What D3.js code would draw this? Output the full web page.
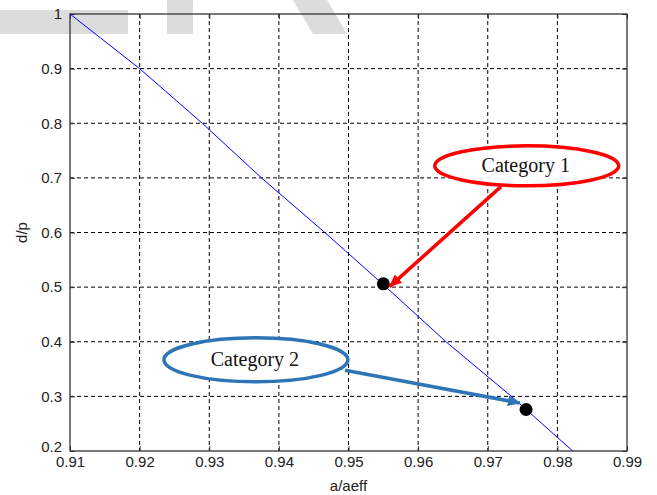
<!DOCTYPE html>
<html>
<head>
<meta charset="utf-8">
<script src="https://d3js.org/d3.v7.min.js"></script>
<style>
  body { margin: 0; background: #fff; }
  svg { display: block; }
</style>
</head>
<body>
<script>
// curve d/p against a/aeff
var curveX = [0.91, 0.92, 0.929, 0.9375, 0.9466, 0.9554, 0.964, 0.9734, 0.9822];
var curveY = [1.0, 0.9, 0.8, 0.7, 0.6, 0.5, 0.4, 0.3, 0.2];

// marked points
var pointX = [0.955, 0.9755];
var pointY = [0.506, 0.276];

// callouts (data coords)
var categories = ['Category 1', 'Category 2'];
var calloutX = [0.9756, 0.9367];
var calloutY = [0.722, 0.367];
var arrowFromX = [0.9719, 0.9495];
var arrowFromY = [0.684, 0.348];
var arrowToX = [0.9559, 0.9746];
var arrowToY = [0.501, 0.288];
var calloutColors = ['#ff0000', '#2e75b6'];

var xTicks = [0.91, 0.92, 0.93, 0.94, 0.95, 0.96, 0.97, 0.98, 0.99];
var yTicks = [0.2, 0.3, 0.4, 0.5, 0.6, 0.7, 0.8, 0.9, 1];

var width = 657, height = 495;
var margin = {left: 70, right: 30, top: 14, bottom: 44};

var svg = d3.select('body').append('svg')
    .attr('width', width)
    .attr('height', height);

// grey watermark behind the chart
var wm = svg.append('g').attr('fill', '#dcdcdc');
wm.append('rect').attr('x', 0).attr('y', 10).attr('width', 128).attr('height', 24);
wm.append('rect').attr('x', 167).attr('y', 0).attr('width', 26).attr('height', 34);
wm.append('polygon').attr('points', '293,0 327,0 347,34 313,34');

var x = d3.scaleLinear().domain([0.91, 0.99]).range([margin.left, width - margin.right]);
var y = d3.scaleLinear().domain([0.2, 1]).range([height - margin.bottom, margin.top]);

var x0 = x.range()[0], x1 = x.range()[1];
var y0 = y.range()[0], y1 = y.range()[1];

// dashed grid
svg.append('g').selectAll('line')
    .data(xTicks.slice(1, -1))
    .enter().append('line')
    .attr('x1', d => x(d)).attr('x2', d => x(d))
    .attr('y1', y1).attr('y2', y0)
    .attr('stroke', '#000').attr('stroke-width', 1)
    .attr('stroke-dasharray', '4,3');

svg.append('g').selectAll('line')
    .data(yTicks.slice(1, -1))
    .enter().append('line')
    .attr('x1', x0).attr('x2', x1)
    .attr('y1', d => y(d)).attr('y2', d => y(d))
    .attr('stroke', '#000').attr('stroke-width', 1)
    .attr('stroke-dasharray', '4,3');

// axes with inward ticks
var fmt = d => String(+d.toFixed(2));
var xAxis = svg.append('g')
    .attr('transform', 'translate(0,' + y0 + ')')
    .call(d3.axisBottom(x).tickValues(xTicks).tickSizeInner(-5).tickSizeOuter(0).tickPadding(8).tickFormat(fmt));
var xAxisTop = svg.append('g')
    .attr('transform', 'translate(0,' + y1 + ')')
    .call(d3.axisTop(x).tickValues(xTicks).tickSizeInner(-5).tickSizeOuter(0).tickFormat(''));
var yAxis = svg.append('g')
    .attr('transform', 'translate(' + x0 + ',0)')
    .call(d3.axisLeft(y).tickValues(yTicks).tickSizeInner(-5).tickSizeOuter(0).tickPadding(8).tickFormat(fmt));
var yAxisRight = svg.append('g')
    .attr('transform', 'translate(' + x1 + ',0)')
    .call(d3.axisRight(y).tickValues(yTicks).tickSizeInner(-5).tickSizeOuter(0).tickFormat(''));

[xAxis, xAxisTop, yAxis, yAxisRight].forEach(function (a) {
    a.select('.domain').remove();
    a.selectAll('line').attr('stroke', '#333');
    a.selectAll('text')
        .attr('fill', '#222')
        .style('font-family', 'Liberation Sans, Arial, sans-serif')
        .style('font-size', '15px');
});
xAxis.selectAll('text').attr('dy', '0.55em');
// lowest y label sits a little above its tick, as in the original
yAxis.selectAll('.tick').filter(d => d === 0.2).select('text').attr('dy', '0.05em');

svg.append('rect')
    .attr('x', x0).attr('y', y1)
    .attr('width', x1 - x0).attr('height', y0 - y1)
    .attr('fill', 'none')
    .attr('stroke', '#333')
    .attr('stroke-width', 1.3);

// axis titles
svg.append('text')
    .attr('x', (x0 + x1) / 2)
    .attr('y', 491)
    .attr('text-anchor', 'middle')
    .style('font-family', 'Liberation Sans, Arial, sans-serif')
    .style('font-size', '15px')
    .attr('fill', '#222')
    .text('a/aeff');

svg.append('text')
    .attr('transform', 'translate(27,' + ((y0 + y1) / 2) + ') rotate(-90)')
    .attr('text-anchor', 'middle')
    .style('font-family', 'Liberation Sans, Arial, sans-serif')
    .style('font-size', '15px')
    .attr('fill', '#222')
    .text('d/p');

// curve
var curve = curveX.map((d, i) => [d, curveY[i]]);
svg.append('path')
    .datum(curve)
    .attr('d', d3.line().x(d => x(d[0])).y(d => y(d[1])))
    .attr('fill', 'none')
    .attr('stroke', '#0000ff')
    .attr('stroke-width', 1);

// points
svg.append('g').selectAll('circle')
    .data(pointX)
    .enter().append('circle')
    .attr('cx', d => x(d))
    .attr('cy', (d, i) => y(pointY[i]))
    .attr('r', 6.5)
    .attr('fill', '#000');

// arrow markers
var defs = svg.append('defs');
calloutColors.forEach(function (c, i) {
    defs.append('marker')
        .attr('id', 'arrow' + i)
        .attr('markerUnits', 'userSpaceOnUse')
        .attr('viewBox', '0 0 12 10')
        .attr('refX', 11).attr('refY', 5)
        .attr('markerWidth', 13).attr('markerHeight', 11)
        .attr('orient', 'auto')
        .append('path')
        .attr('d', 'M0,0 L12,5 L0,10 Z')
        .attr('fill', c);
});

// callouts
var callouts = svg.append('g').selectAll('g')
    .data(categories)
    .enter().append('g');

callouts.append('line')
    .attr('x1', (d, i) => x(arrowFromX[i]))
    .attr('y1', (d, i) => y(arrowFromY[i]))
    .attr('x2', (d, i) => x(arrowToX[i]))
    .attr('y2', (d, i) => y(arrowToY[i]))
    .attr('stroke', (d, i) => calloutColors[i])
    .attr('stroke-width', 3.5)
    .attr('marker-end', (d, i) => 'url(#arrow' + i + ')');

callouts.append('ellipse')
    .attr('cx', (d, i) => x(calloutX[i]))
    .attr('cy', (d, i) => y(calloutY[i]))
    .attr('rx', 92)
    .attr('ry', (d, i) => i === 0 ? 20 : 22)
    .attr('fill', '#fff')
    .attr('stroke', (d, i) => calloutColors[i])
    .attr('stroke-width', 3.5);

callouts.append('text')
    .attr('x', (d, i) => x(calloutX[i]) - 1)
    .attr('y', (d, i) => y(calloutY[i]))
    .attr('dy', '0.32em')
    .attr('text-anchor', 'middle')
    .style('font-family', 'Liberation Serif, Times New Roman, serif')
    .style('font-size', '20px')
    .attr('fill', '#111')
    .text(d => d);
</script>
</body>
</html>
